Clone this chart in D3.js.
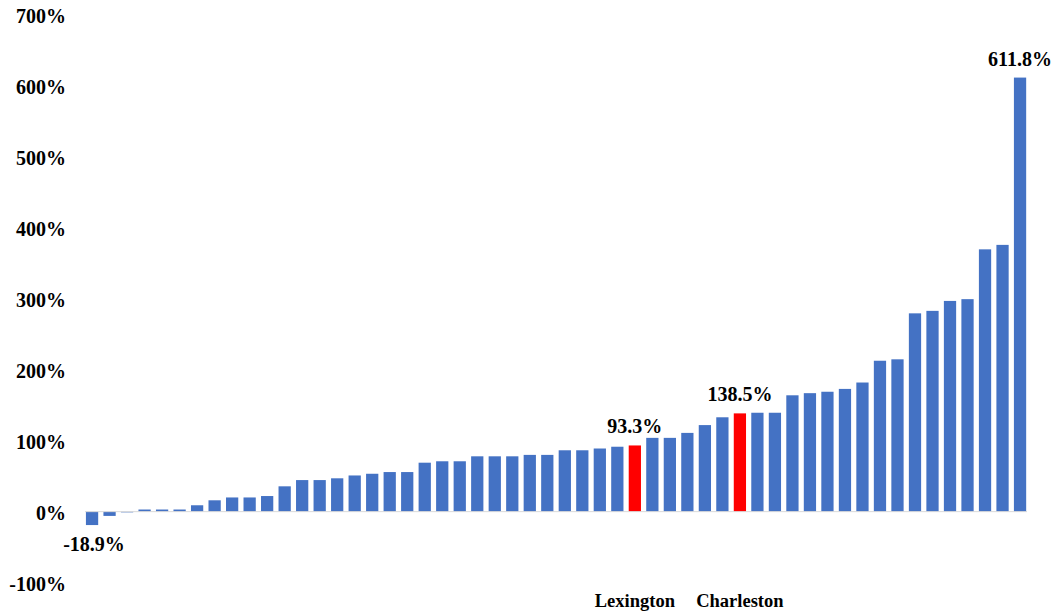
<!DOCTYPE html>
<html>
<head>
<meta charset="utf-8">
<script src="https://cdn.jsdelivr.net/npm/d3@7"></script>
<style>
  html, body { margin: 0; padding: 0; background: #fff; }
  svg { display: block; }
  text { font-family: "Liberation Serif", "Times New Roman", serif; font-weight: bold; fill: #000; }
</style>
</head>
<body>
<svg id="chart" width="1057" height="613"></svg>
<script>
// ---- data ----
const values = [
  -18.9, -6, -1, 3, 3, 3, 9, 16, 20, 20,
  22, 35.7, 44.5, 44.5, 47, 51, 53.4, 55.8, 55.8, 69,
  71, 71, 78, 78, 78, 80, 80, 86.5, 86.5, 89,
  91.5, 93.3, 104, 104, 111, 122, 133, 138.5, 139.4, 139.4,
  164, 167, 169, 173, 182, 212.7, 214.7, 279.5, 283, 297,
  299.5, 369.7, 376, 611.8
];
const categoryLabels = values.map(() => "");
categoryLabels[31] = "Lexington";
categoryLabels[37] = "Charleston";
const highlighted = [31, 37];
const labeledBars = [0, 31, 37, 53];
const yTicks = [-100, 0, 100, 200, 300, 400, 500, 600, 700];

// ---- layout ----
const svg = d3.select("#chart");
const x = d3.scaleBand()
  .domain(d3.range(values.length))
  .range([83.3, 1028.8])
  .paddingInner(0.3)
  .paddingOuter(0.15);
const y = d3.scaleLinear().domain([-100, 700]).range([582.6, 15]);

const fmt = v => (Math.round(v * 10) / 10).toFixed(1) + "%";

// y axis labels (no line, no ticks)
const yAxis = d3.axisLeft(y).tickValues(yTicks).tickFormat(d => d + "%").tickSize(0).tickPadding(0);
const gy = svg.append("g").attr("transform", "translate(66,0)").call(yAxis);
gy.select(".domain").remove();
gy.selectAll("text")
  .attr("font-family", '"Liberation Serif", serif')
  .attr("font-weight", "bold")
  .attr("font-size", 20)
  .attr("fill", "#000")
  .attr("dy", "0.38em");

// bars
svg.append("g").selectAll("rect")
  .data(values)
  .join("rect")
  .attr("x", (d, i) => x(i))
  .attr("width", x.bandwidth())
  .attr("y", d => y(Math.max(0, d)))
  .attr("height", d => Math.abs(y(d) - y(0)))
  .attr("fill", (d, i) => highlighted.includes(i) ? "#FF0000" : "#4472C4");

// baseline
svg.append("line")
  .attr("x1", 85).attr("x2", 1027)
  .attr("y1", y(0)).attr("y2", y(0))
  .attr("stroke", "#d9d9d9").attr("stroke-width", 1);

// x axis category labels
const xAxis = d3.axisBottom(x).tickFormat(i => categoryLabels[i]).tickSize(0).tickPadding(0);
const gx = svg.append("g").attr("transform", "translate(0,600)").call(xAxis);
gx.select(".domain").remove();
gx.selectAll("text")
  .attr("font-family", '"Liberation Serif", serif')
  .attr("font-weight", "bold")
  .attr("font-size", 18.5)
  .attr("fill", "#000")
  .attr("y", 0)
  .attr("dy", "0.36em");

// data labels
svg.append("g").selectAll("text")
  .data(labeledBars)
  .join("text")
  .attr("x", i => x(i) + x.bandwidth() / 2 + (i === 0 ? 2 : 0))
  .attr("y", i => values[i] < 0 ? y(values[i]) + 26 : y(values[i]) - 12)
  .attr("text-anchor", "middle")
  .attr("font-size", 20)
  .text(i => fmt(values[i]));
</script>
</body>
</html>
